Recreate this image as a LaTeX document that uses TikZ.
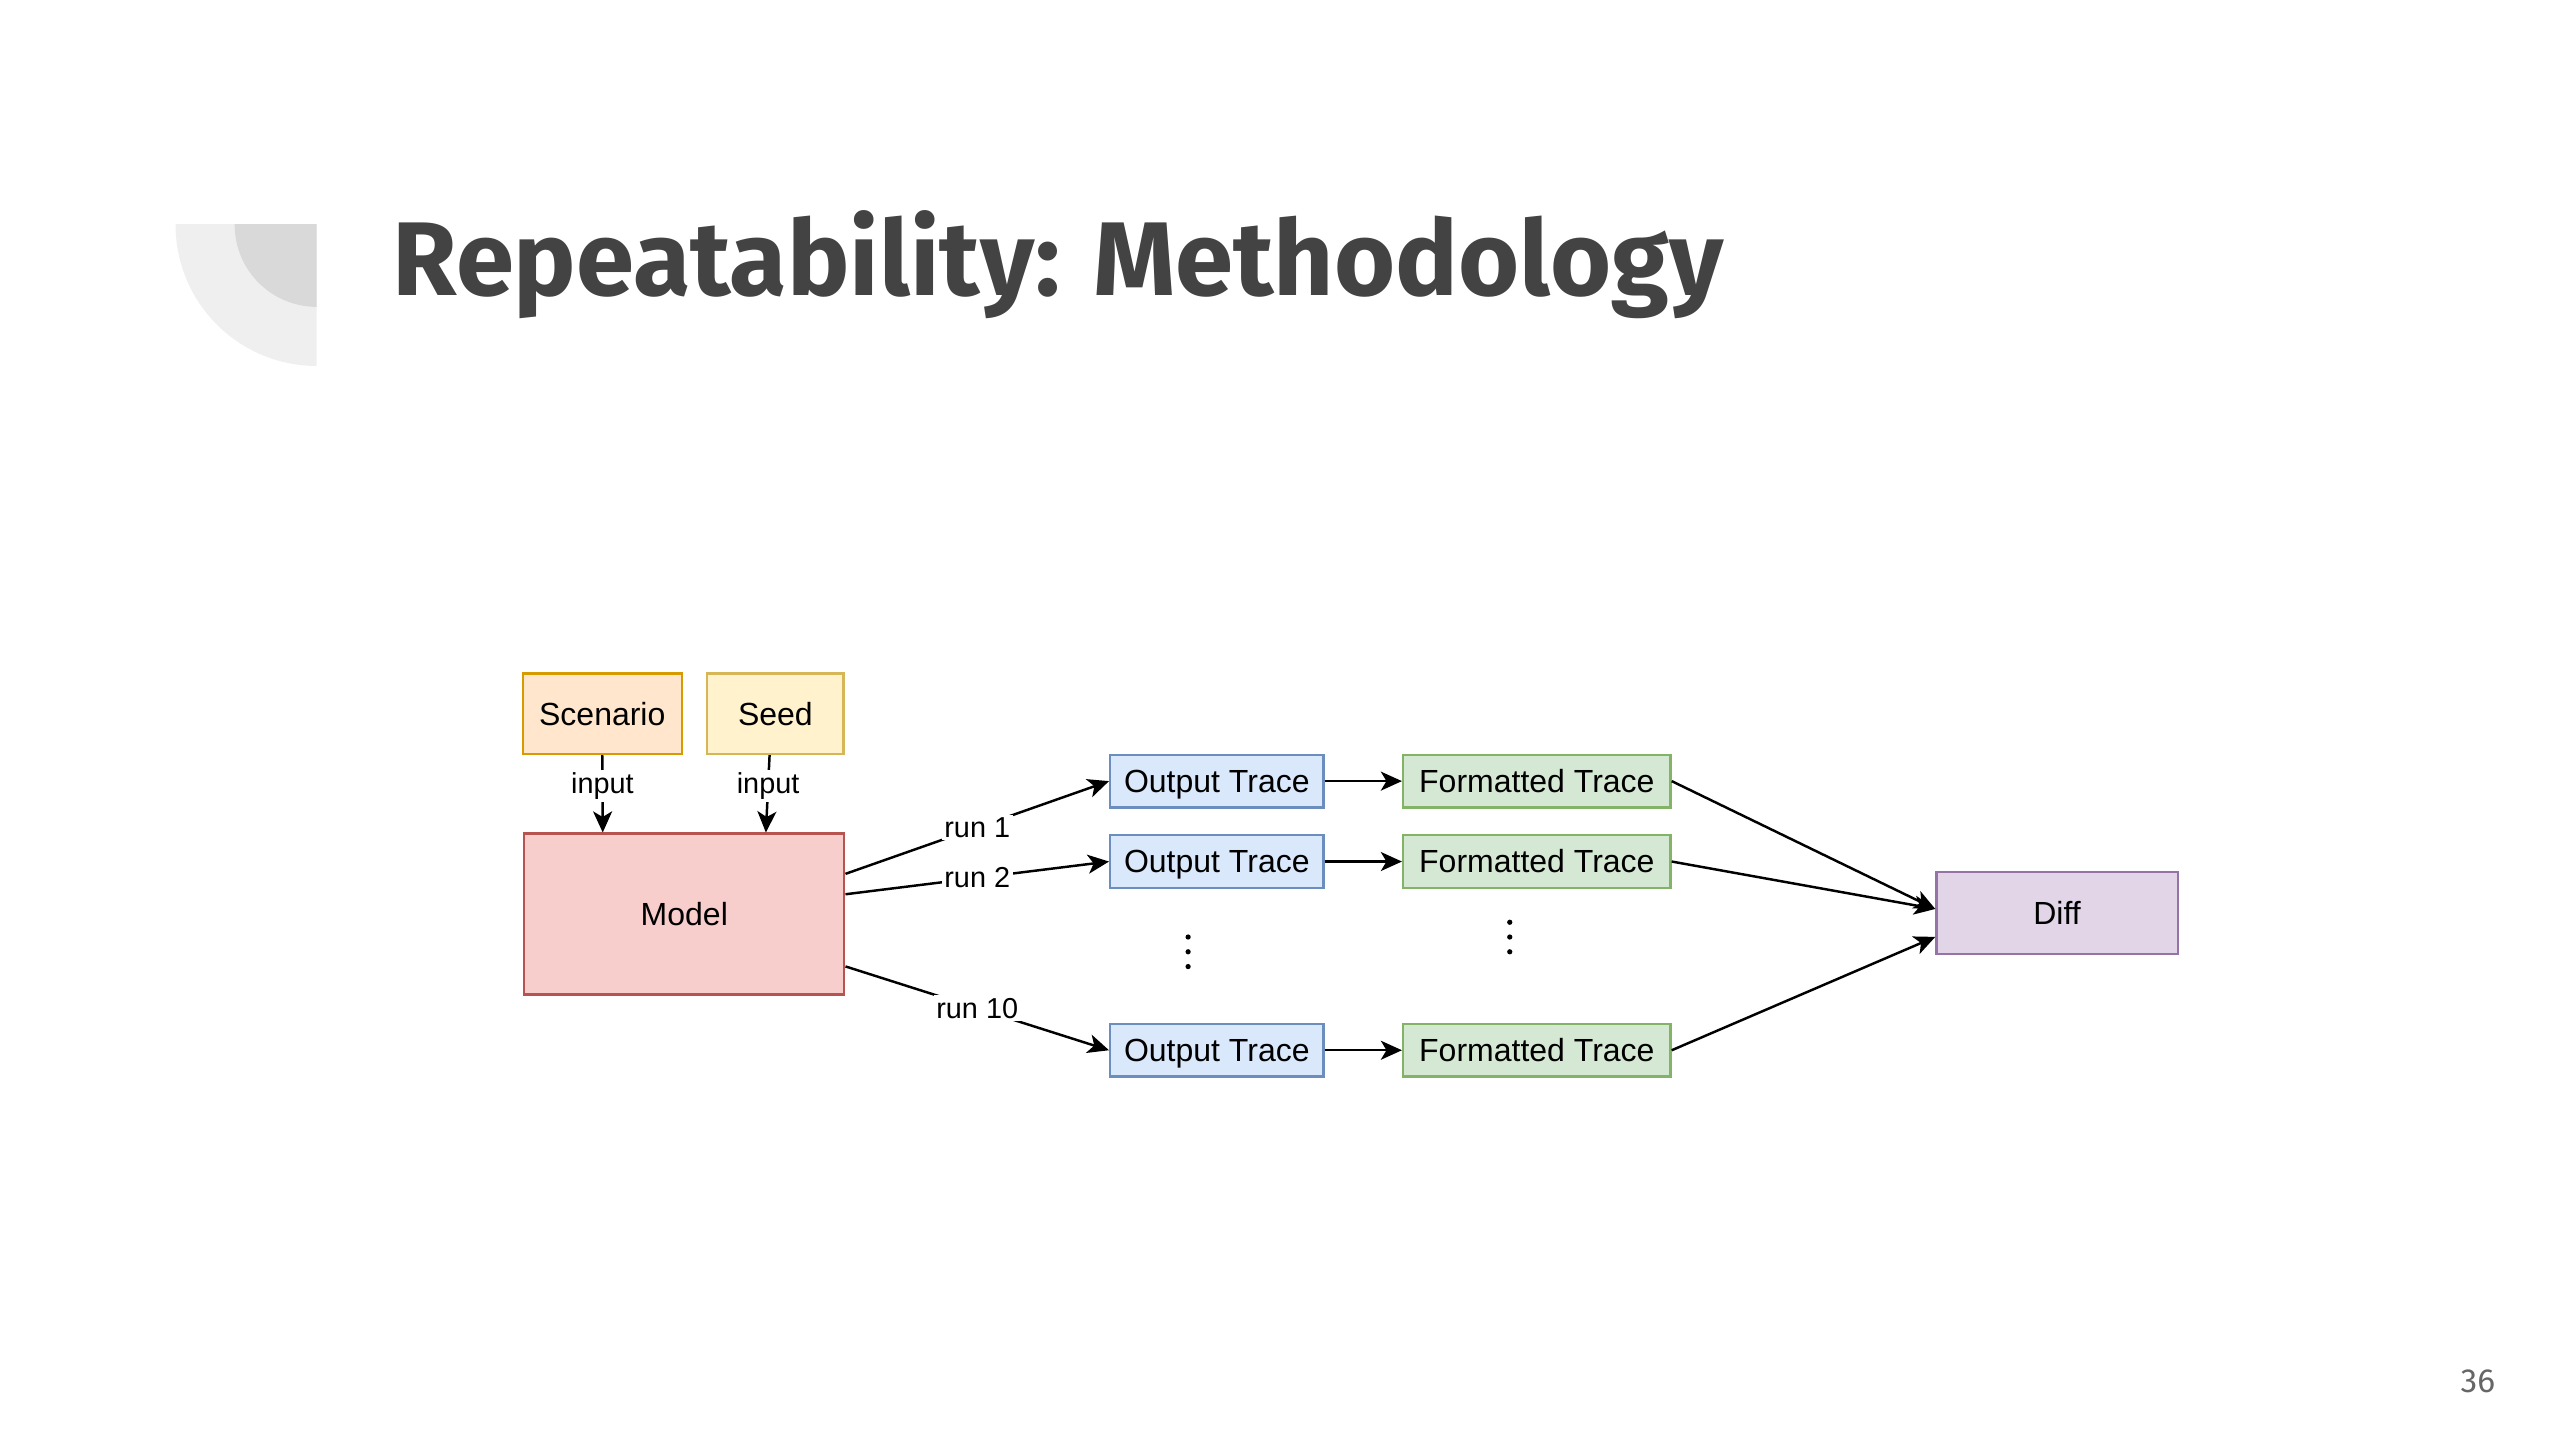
\documentclass[tikz,border=0pt]{standalone}
\usepackage{fontspec}
\setmainfont{Liberation Sans}
\newfontfamily\titlefont{Fira Sans}
\usetikzlibrary{arrows.meta}

\definecolor{titlegray}{HTML}{434343}
\definecolor{pagegray}{HTML}{666666}
\definecolor{decolight}{HTML}{EFEFEF}
\definecolor{decodark}{HTML}{D9D9D9}
\definecolor{scenfill}{HTML}{FFE6CC}
\definecolor{scendraw}{HTML}{D79B00}
\definecolor{seedfill}{HTML}{FFF2CC}
\definecolor{seeddraw}{HTML}{D6B656}
\definecolor{modelfill}{HTML}{F8CECC}
\definecolor{modeldraw}{HTML}{B85450}
\definecolor{outfill}{HTML}{DAE8FC}
\definecolor{outdraw}{HTML}{6C8EBF}
\definecolor{fmtfill}{HTML}{D5E8D4}
\definecolor{fmtdraw}{HTML}{82B366}
\definecolor{difffill}{HTML}{E1D5E7}
\definecolor{diffdraw}{HTML}{9673A6}

\newcommand{\pxu}{0.01641cm}

\begin{document}
\begin{tikzpicture}[x=0.01641cm,y=-0.01641cm,
  box/.style={draw,line width=0.65pt,inner sep=0pt,text height=0.72em,text depth=0.08em,
    font=\fontsize{9.1}{11}\selectfont},
  outbox/.style={box,fill=outfill,draw=outdraw,minimum width=130*\pxu,minimum height=32*\pxu},
  fmtbox/.style={box,fill=fmtfill,draw=fmtdraw,minimum width=163*\pxu,minimum height=32*\pxu},
  lbl/.style={fill=white,inner sep=0.8pt,font=\fontsize{8.2}{10}\selectfont},
  conn/.style={line width=0.7pt,-{Stealth[length=6pt,width=5.4pt,inset=1.6pt]}}]
  \useasboundingbox[fill=white] (0,0) rectangle (1560,877.5);

  % corner decoration
  \begin{scope}
    \clip (107,137) rectangle (193,223);
    \fill[decolight] (193,137) circle[radius=86];
    \fill[decodark] (193,137) circle[radius=50];
  \end{scope}

  \node[name=title,anchor=base west,inner sep=0pt,text=titlegray,
    font=\titlefont\bfseries\fontsize{29.8}{36}\selectfont] at (239,180) {Repeatability: Methodology};
  \node[name=pagenum,text=pagegray,font=\titlefont\fontsize{9.5}{11}\selectfont] at (1510,842) {36};

  % inputs and model
  \node[name=scenario,box,fill=scenfill,draw=scendraw,minimum width=97*\pxu,minimum height=49*\pxu] at (367,435) {Scenario};
  \node[name=seed,box,fill=seedfill,draw=seeddraw,minimum width=83*\pxu,minimum height=49*\pxu] at (472.5,435) {Seed};
  \node[name=model,box,fill=modelfill,draw=modeldraw,minimum width=195*\pxu,minimum height=98*\pxu] at (417,557) {Model};
  \draw[conn] (scenario.south) -- (model.135) node[lbl,pos=0.4] {input};
  \draw[conn] (seed.262) -- (model.45) node[lbl,pos=0.4] {input};

  % runs
  \node[name=out1,outbox] at (741.5,476) {Output Trace};
  \node[name=out2,outbox] at (741.5,525) {Output Trace};
  \node[name=out10,outbox] at (741.5,640) {Output Trace};
  \node[name=fmt1,fmtbox] at (936.5,476) {Formatted Trace};
  \node[name=fmt2,fmtbox] at (936.5,525) {Formatted Trace};
  \node[name=fmt10,fmtbox] at (936.5,640) {Formatted Trace};
  \node[name=diff,box,fill=difffill,draw=diffdraw,minimum width=147*\pxu,minimum height=50*\pxu] at (1253.5,556.5) {Diff};

  \draw[conn] (model.14) -- (out1.west) node[lbl,pos=0.5] {run 1};
  \draw[conn] (model.7) -- (out2.west) node[lbl,pos=0.5] {run 2};
  \draw[conn] (model.-18) -- (out10.west) node[lbl,pos=0.5] {run 10};

  \draw[conn] (out1.east) -- (fmt1.west);
  \draw[conn] (out2.east) -- (fmt2.west);
  \draw[conn] (out10.east) -- (fmt10.west);

  \draw[conn] (fmt1.east) -- (diff.178);
  \draw[conn] (fmt2.east) -- (diff.178);
  \draw[conn] (fmt10.east) -- (diff.191);

  % dots
  \foreach \dy in {-9,0,9} {
    \fill (724,580+\dy) circle[radius=1.6];
    \fill (920,571+\dy) circle[radius=1.6];
  }
\end{tikzpicture}
\end{document}
